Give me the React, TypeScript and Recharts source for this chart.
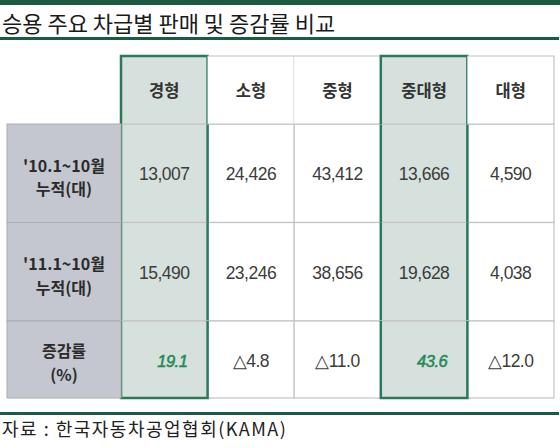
import { Scatter, ScatterChart, XAxis, YAxis } from 'recharts';

// 차급 (columns) and highlighted columns
const columns = ['경형', '소형', '중형', '중대형', '대형'];
const highlightColumns = ['경형', '중대형'];

// rows
const rowKeys = ['2010', '2011'];
const rowLabel2010 = ["'10.1~10월", '누적(대)'];
const rowLabel2011 = ["'11.1~10월", '누적(대)'];
const growthLabel = ['증감률', '(%)'];

// values
const sales2010 = [13007, 24426, 43412, 13666, 4590];
const sales2011 = [15490, 23246, 38656, 19628, 4038];
const growthRates = [19.1, -4.8, -11.0, 43.6, -12.0];

const salesData = [
  ...columns.map((col, i) => ({ col, row: rowKeys[0], value: sales2010[i] })),
  ...columns.map((col, i) => ({ col, row: rowKeys[1], value: sales2011[i] })),
];
const growthData = columns.map((col, i) => ({ col, row: 'growth', value: growthRates[i] }));

const rowLabels: Record<string, string[]> = {
  [rowKeys[0]]: rowLabel2010,
  [rowKeys[1]]: rowLabel2011,
  growth: growthLabel,
};

const KR = '"Noto Sans CJK KR", "Noto Sans", sans-serif';
const NUM = '"Liberation Sans", Arial, sans-serif';
const GRID = '#c4c4c4';
const GREEN = '#2a7a5a';
const DARK_GREEN = '#1d5a42';
const HI_FILL = '#d6e0dc';
const LABEL_FILL = '#c4c7cf';

const MARGIN_LEFT = 7;
const MARGIN_RIGHT = 6;
const LABEL_W = 114;
const CELL_W = (560 - MARGIN_LEFT - MARGIN_RIGHT - LABEL_W) / 5;
const HEADER_H = 68;
const LINE_GAP = 23.5;

const isHi = (c: string) => highlightColumns.includes(c);

const HeaderTick = (props: any) => {
  const { x, y, payload } = props;
  const left = x - CELL_W / 2;
  const top = y - HEADER_H;
  const hi = isHi(payload.value);
  return (
    <g>
      <rect x={left} y={top} width={CELL_W} height={HEADER_H} fill={hi ? HI_FILL : '#fff'} />
      <path d={`M${left + CELL_W},${y} V${top} H${left} M${left},${y} H${left + CELL_W}`} stroke={GRID} strokeWidth={1.2} fill="none" />
      <text x={x} y={y - HEADER_H / 2} textAnchor="middle" dominantBaseline="central" fontFamily={KR} fontWeight={700} fontSize={16.5} fill="#333">
        {payload.value}
      </text>
      {hi && (
        <path d={`M${left},${y} V${top} H${left + CELL_W} V${y}`} stroke={GREEN} strokeWidth={2.5} fill="none" />
      )}
    </g>
  );
};

const makeRowTick = (rowH: number, shift: number) => (props: any) => {
  const { x, y, payload } = props;
  const lines = rowLabels[payload.value] || [];
  return (
    <g>
      <rect x={x - LABEL_W} y={y - rowH / 2} width={LABEL_W} height={rowH} fill={LABEL_FILL} stroke="#a9acb3" strokeWidth={1} />
      {lines.map((l, i) => (
        <text
          key={i}
          x={x - LABEL_W / 2}
          y={y + shift + (i - 0.5) * LINE_GAP}
          textAnchor="middle"
          dominantBaseline="central"
          fontFamily={KR}
          fontWeight={700}
          fontSize={16}
          fill="#2b2b2b"
        >
          {l}
        </text>
      ))}
    </g>
  );
};

const makeCell = (rowH: number) => (props: any) => {
  const { cx, cy, payload } = props;
  if (cx == null || cy == null) return <g />;
  const v = payload.value as number;
  const growth = payload.row === 'growth';
  let label: string;
  if (growth) label = v >= 0 ? v.toFixed(1) : '△' + Math.abs(v).toFixed(1);
  else label = v.toLocaleString('en-US');
  const green = growth && v >= 0;
  return (
    <g>
      <rect x={cx - CELL_W / 2} y={cy - rowH / 2} width={CELL_W} height={rowH} fill={isHi(payload.col) ? HI_FILL : '#fff'} stroke={GRID} strokeWidth={1.2} />
      <text
        x={cx + (green ? 8 : 0)}
        y={cy + 1}
        textAnchor="middle"
        dominantBaseline="central"
        fontFamily={NUM}
        fontSize={green ? 16.5 : 17.5}
        fontStyle={green ? 'italic' : 'normal'}
        fontWeight={400}
        letterSpacing={-0.5}
        stroke={green ? '#1f8a55' : 'none'}
        strokeWidth={green ? 0.5 : 0}
        fill={green ? '#1f8a55' : '#3c3c3c'}
      >
        {label}
      </text>
    </g>
  );
};

const makeOutline = (rowH: number, closeBottom: boolean) => (props: any) => {
  const { cx, cy } = props;
  if (cx == null || cy == null) return <g />;
  const l = cx - CELL_W / 2;
  const r = cx + CELL_W / 2;
  const t = cy - rowH / 2;
  const b = cy + rowH / 2;
  const d = closeBottom ? `M${l},${t} V${b} H${r} V${t}` : `M${l},${t} V${b} M${r},${t} V${b}`;
  return <path d={d} stroke={GREEN} strokeWidth={2.5} fill="none" />;
};

const ROW_H_A = 98.5;
const ROW_H_B = 77;

export default function App() {
  return (
    <div style={{ position: 'absolute', left: 0, top: 0, width: 560, height: 448, background: '#fff', overflow: 'hidden' }}>
      <div style={{ position: 'absolute', left: 0, top: 0, width: 560, height: 5, background: DARK_GREEN }} />
      <div style={{ position: 'absolute', left: 2, top: 7, lineHeight: '30px', fontFamily: KR, fontSize: 22, color: '#1a1a1a', whiteSpace: 'nowrap' }}>
        승용 주요 차급별 판매 및 증감률 비교
      </div>
      <div style={{ position: 'absolute', left: 0, top: 37, width: 559, height: 3, background: DARK_GREEN }} />

      <div style={{ position: 'absolute', left: 0, top: 50 }}>
        <ScatterChart width={560} height={272} margin={{ top: 6, right: MARGIN_RIGHT, bottom: 1, left: MARGIN_LEFT }}>
          <XAxis
            xAxisId={0}
            type="category"
            dataKey="col"
            orientation="top"
            height={HEADER_H}
            allowDuplicatedCategory={false}
            axisLine={false}
            tickLine={false}
            tickSize={0}
            tickMargin={0}
            interval={0}
            tick={HeaderTick}
          />
          <YAxis
            yAxisId={0}
            type="category"
            dataKey="row"
            width={LABEL_W}
            reversed
            allowDuplicatedCategory={false}
            axisLine={false}
            tickLine={false}
            tickSize={0}
            tickMargin={0}
            interval={0}
            tick={makeRowTick(ROW_H_A, 3)}
          />
          <Scatter data={salesData} isAnimationActive={false} shape={makeCell(ROW_H_A)} />
          <Scatter
            data={salesData.filter((d) => isHi(d.col))}
            isAnimationActive={false}
            shape={makeOutline(ROW_H_A, false)}
          />
        </ScatterChart>
      </div>

      <div style={{ position: 'absolute', left: 0, top: 318 }}>
        <ScatterChart width={560} height={83} margin={{ top: 3, right: MARGIN_RIGHT, bottom: 3, left: MARGIN_LEFT }}>
          <XAxis xAxisId={0} type="category" dataKey="col" hide allowDuplicatedCategory={false} />
          <YAxis
            yAxisId={0}
            type="category"
            dataKey="row"
            width={LABEL_W}
            allowDuplicatedCategory={false}
            axisLine={false}
            tickLine={false}
            tickSize={0}
            tickMargin={0}
            interval={0}
            tick={makeRowTick(ROW_H_B, 2.5)}
          />
          <Scatter data={growthData} isAnimationActive={false} shape={makeCell(ROW_H_B)} />
          <Scatter
            data={growthData.filter((d) => isHi(d.col))}
            isAnimationActive={false}
            shape={makeOutline(ROW_H_B, true)}
          />
        </ScatterChart>
      </div>

      <div style={{ position: 'absolute', left: 0, top: 412, width: 559, height: 3, background: DARK_GREEN }} />
      <div style={{ position: 'absolute', left: 2, top: 417, lineHeight: '22px', fontFamily: KR, fontSize: 18, letterSpacing: 1.5, color: '#222', whiteSpace: 'pre' }}>
        자료 : 한국자동차공업협회(KAMA)
      </div>
    </div>
  );
}
